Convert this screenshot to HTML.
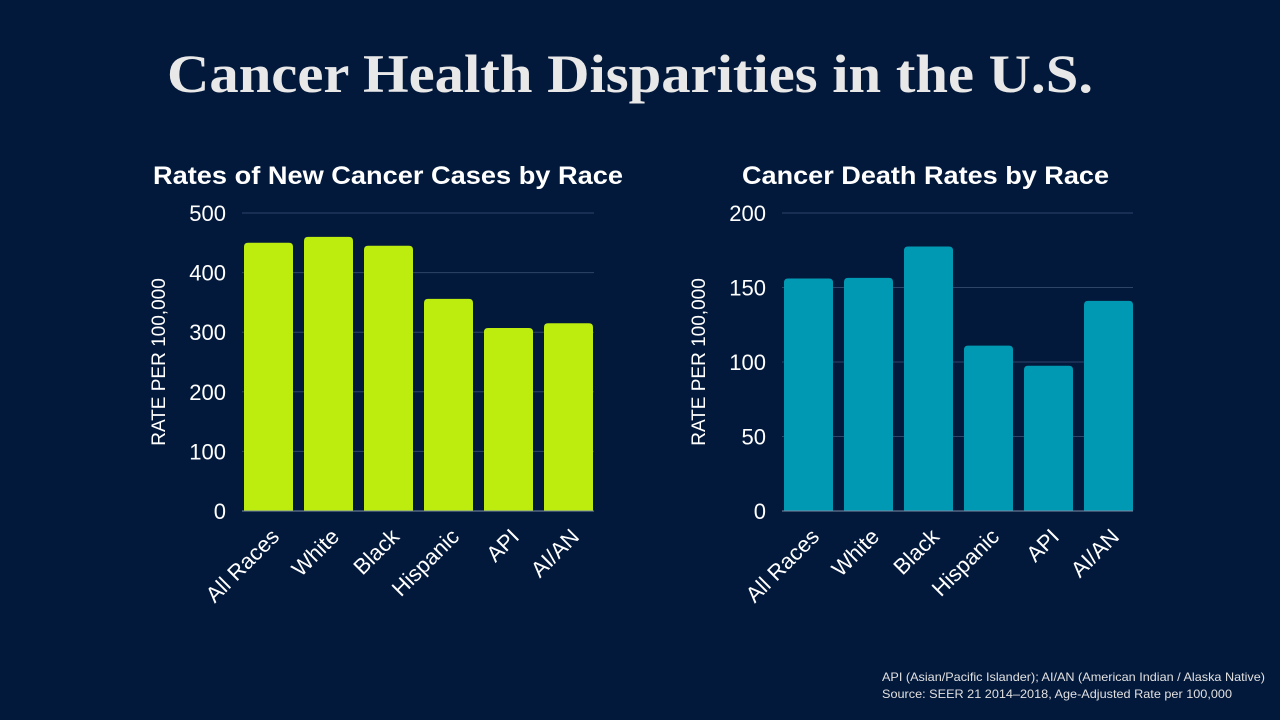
<!DOCTYPE html>
<html><head><meta charset="utf-8">
<style>
html,body{margin:0;padding:0;background:#03193b;}
svg{display:block;font-family:"Liberation Sans",sans-serif;}
</style></head>
<body>
<svg id="s" width="1280" height="720" viewBox="0 0 1280 720">
<rect width="1280" height="720" fill="#03193b"/>
<text x="167" y="92" textLength="926" lengthAdjust="spacingAndGlyphs" font-family="Liberation Serif, serif" font-weight="bold" font-size="54" fill="#e8e8e8">Cancer Health Disparities in the U.S.</text>
<text x="882" y="681" textLength="383" lengthAdjust="spacingAndGlyphs" font-size="12" fill="#e0e0e0">API (Asian/Pacific Islander); AI/AN (American Indian / Alaska Native)</text>
<text x="882" y="698" textLength="350" lengthAdjust="spacingAndGlyphs" font-size="12" fill="#e0e0e0">Source: SEER 21 2014–2018, Age-Adjusted Rate per 100,000</text>
</svg>
<script>
const categories=["All Races","White","Black","Hispanic","API","AI/AN"];
const newCases=[450,460,445,356,307,315];
const deaths=[156,156.5,177.5,111,97.5,141];
const ticksLeft=[0,100,200,300,400,500];
const ticksRight=[0,50,100,150,200];
const svg=document.getElementById('s');
const NS='http://www.w3.org/2000/svg';
function mk(t,a,txt){const e=document.createElementNS(NS,t);for(const k in a)e.setAttribute(k,a[k]);if(txt!==undefined)e.textContent=txt;svg.appendChild(e);return e;}
function chart(o){
  const y=v=>o.y0-(v/o.max)*(o.y0-o.y1);
  const band=60;
  const t=mk('text',{x:o.tx,y:184,textLength:o.tw,lengthAdjust:'spacingAndGlyphs','font-size':25,'font-weight':'bold',fill:'#ffffff'},o.title);
  
  
  o.ticks.forEach(v=>{
    if(v>0){const g=mk('line',{x1:o.x0,x2:o.x1,y1:y(v),y2:y(v),stroke:'#2e4468','stroke-width':1});
    
    }
    const l=mk('text',{x:o.x0-16,y:y(v)+8,'text-anchor':'end','font-size':22,fill:'#ffffff'},v);
    
    
  });
  const at=mk('text',{transform:`translate(${o.x0-77},${(o.y0+o.y1)/2}) rotate(-90)`,'text-anchor':'middle','font-size':19,fill:'#ffffff'},'RATE PER 100,000');
  
  
  o.vals.forEach((v,i)=>{
    const bx=o.x0+2+i*band, bw=49;
    const r=mk('path',{d:`M${bx},${o.y0} V${y(v)+4} Q${bx},${y(v)} ${bx+4},${y(v)} H${bx+bw-4} Q${bx+bw},${y(v)} ${bx+bw},${y(v)+4} V${o.y0} Z`,fill:o.color});
    
    
    const cx=bx+bw/2;
    const l=mk('text',{transform:`translate(${cx+12},${o.y0+27}) rotate(-45)`,'text-anchor':'end','font-size':22,fill:'#ffffff'},categories[i]);
    
    
  });
  const b=mk('line',{x1:o.x0,x2:o.x1,y1:o.y0,y2:o.y0,stroke:'#7a8aa6','stroke-width':1});
  
  
}
chart({id:'new-cases',title:'Rates of New Cancer Cases by Race',tx:153,tw:470,x0:242,x1:594,y0:511,y1:213,max:500,vals:newCases,ticks:ticksLeft,color:'#bdec0f'});
chart({id:'deaths',title:'Cancer Death Rates by Race',tx:742,tw:367,x0:782,x1:1133,y0:511,y1:213,max:200,vals:deaths,ticks:ticksRight,color:'#0099b4'});
</script>
</body></html>
